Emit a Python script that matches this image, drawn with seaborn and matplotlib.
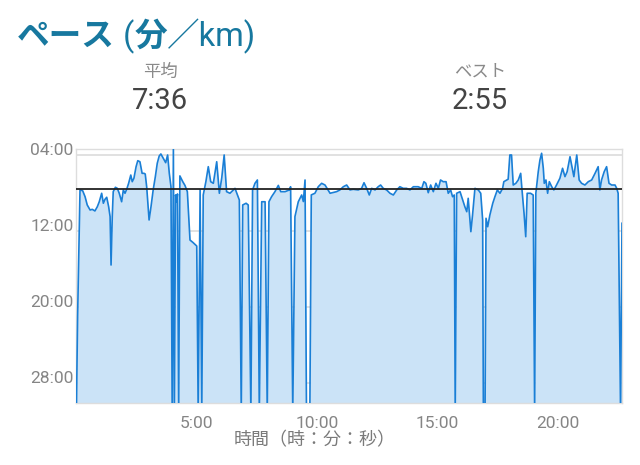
import matplotlib
matplotlib.use("Agg")
import matplotlib.pyplot as plt
from matplotlib.ticker import FixedLocator, FuncFormatter
from matplotlib.offsetbox import TextArea, HPacker, AnnotationBbox
import numpy as np
import pandas as pd
import seaborn as sns

# elapsed time (minutes) and pace (minutes per km); 31 = off the bottom (stopped)
time_min = [
    0.00, 0.05, 0.15, 0.26, 0.36, 0.45, 0.57, 0.66, 0.77, 0.87, 0.95, 1.05, 1.12, 1.19, 1.26,
    1.34, 1.40, 1.44, 1.49, 1.53, 1.62, 1.70, 1.78, 1.88, 1.95, 2.02, 2.09, 2.17, 2.26, 2.32,
    2.39, 2.48, 2.55, 2.64, 2.73, 2.81, 2.86, 2.92, 3.02, 3.10, 3.19, 3.28, 3.36, 3.44, 3.51,
    3.61, 3.71, 3.79, 3.86, 3.93, 3.98, 4.03, 4.07, 4.12, 4.17, 4.20, 4.25, 4.30, 4.42, 4.51,
    4.61, 4.72, 4.84, 5.00, 5.06, 5.14, 5.21, 5.27, 5.38, 5.48, 5.58, 5.69, 5.83, 5.94, 6.04,
    6.14, 6.24, 6.38, 6.59, 6.77, 6.85, 6.91, 7.05, 7.14, 7.25, 7.32, 7.42, 7.52, 7.60, 7.70,
    7.84, 7.93, 8.00, 8.11, 8.25, 8.39, 8.49, 8.67, 8.85, 8.90, 8.99, 9.08, 9.22, 9.36, 9.43,
    9.50, 9.56, 9.70, 9.76, 9.91, 10.05, 10.19, 10.33, 10.54, 10.81, 10.95, 11.09, 11.23, 11.37, 11.50,
    11.71, 11.85, 11.95, 12.06, 12.17, 12.27, 12.41, 12.54, 12.64, 12.75, 12.89, 13.03, 13.17, 13.31, 13.44,
    13.58, 13.72, 13.86, 14.00, 14.20, 14.35, 14.44, 14.52, 14.62, 14.72, 14.83, 14.94, 15.04, 15.13, 15.24,
    15.36, 15.45, 15.55, 15.63, 15.70, 15.74, 15.80, 15.94, 16.05, 16.14, 16.22, 16.28, 16.39, 16.46, 16.56,
    16.70, 16.80, 16.88, 16.91, 16.98, 17.02, 17.09, 17.18, 17.30, 17.39, 17.49, 17.60, 17.71, 17.76, 17.88,
    17.94, 18.01, 18.08, 18.15, 18.26, 18.36, 18.46, 18.51, 18.60, 18.67, 18.73, 18.87, 18.98, 19.04, 19.09,
    19.19, 19.26, 19.33, 19.40, 19.44, 19.51, 19.58, 19.65, 19.75, 19.84, 19.95, 20.09, 20.20, 20.30, 20.39,
    20.51, 20.59, 20.67, 20.79, 20.89, 20.99, 21.13, 21.27, 21.41, 21.55, 21.68, 21.75, 21.82, 21.93, 22.03,
    22.13, 22.24, 22.38, 22.45, 22.51, 22.61, 22.67,
]
pace_min = [
    31.0, 21.05, 7.68, 7.76, 8.39, 9.26, 9.79, 9.72, 9.89, 9.44, 8.92, 8.03, 9.08, 8.66, 8.45,
    9.44, 10.49, 15.58, 10.49, 7.86, 7.40, 7.51, 8.03, 8.92, 7.68, 8.03, 7.61, 6.98, 6.11, 6.81,
    6.45, 5.23, 4.60, 4.71, 5.93, 5.93, 6.00, 7.34, 10.84, 9.44, 7.68, 6.28, 4.87, 4.11, 3.89,
    4.35, 4.81, 4.00, 5.93, 7.34, 31.0, 3.29, 31.0, 8.20, 8.92, 8.10, 31.0, 6.20, 6.81, 7.20,
    7.86, 12.95, 13.20, 13.58, 31.0, 7.68, 31.0, 8.21, 6.81, 5.23, 6.81, 6.98, 4.71, 8.03, 6.40,
    4.00, 7.86, 8.03, 7.51, 8.74, 31.0, 9.26, 9.08, 9.26, 31.0, 7.68, 6.98, 6.63, 31.0, 8.92,
    8.92, 31.0, 8.92, 8.39, 7.86, 7.20, 7.86, 7.86, 7.68, 7.34, 31.0, 10.49, 8.92, 8.21, 8.90,
    6.63, 31.0, 31.0, 8.20, 8.03, 7.34, 6.98, 7.16, 8.03, 7.86, 7.68, 7.34, 7.16, 7.68, 7.61,
    7.68, 7.51, 6.92, 7.51, 8.21, 7.51, 7.68, 7.34, 7.16, 7.51, 7.68, 8.03, 8.21, 7.68, 7.34,
    7.51, 7.51, 7.68, 7.34, 7.34, 7.51, 6.81, 6.98, 7.97, 7.16, 7.86, 6.98, 7.51, 6.63, 6.81,
    6.81, 8.03, 7.68, 8.39, 8.21, 31.0, 8.03, 7.86, 8.74, 9.44, 9.97, 8.56, 12.07, 10.32, 7.51,
    7.68, 8.03, 10.84, 31.0, 31.0, 10.66, 11.55, 10.32, 9.08, 8.39, 7.68, 8.03, 7.51, 6.81, 6.63,
    6.55, 4.00, 4.00, 7.16, 6.98, 6.63, 5.93, 7.51, 10.14, 12.60, 8.03, 8.03, 8.21, 31.0, 8.03,
    5.76, 4.53, 3.82, 5.40, 6.98, 6.63, 8.03, 6.81, 7.34, 7.68, 7.16, 6.45, 5.40, 6.28, 5.76,
    4.18, 5.23, 6.28, 4.00, 6.63, 6.98, 7.16, 6.81, 6.63, 5.93, 5.23, 7.68, 6.63, 5.76, 5.23,
    6.98, 7.16, 7.16, 7.51, 8.03, 31.0, 11.16,
]
avg_pace = 7.6   # 7:36
y_ticks = [4, 12, 20, 28]
x_ticks = [5, 10, 15, 20]

df = pd.DataFrame({"time": time_min, "pace": pace_min})

sns.set_style("white")
plt.rcParams["font.family"] = ["Roboto", "Noto Sans CJK JP", "DejaVu Sans"]

fig = plt.figure(figsize=(6.4, 4.65), dpi=100)
ax = fig.add_axes([76.4 / 640, 62 / 465, 545.6 / 640, 254 / 465])

y_bottom, y_top = 30.1, 3.37
ax.fill_between(df["time"], df["pace"], y_bottom, color="#cbe3f7", lw=0, zorder=1)
sns.lineplot(data=df, x="time", y="pace", ax=ax, color="#1a7fd6", lw=1.2,
             sort=False, zorder=3)
ax.axhline(avg_pace, color="#222222", lw=1.3, zorder=4)

ax.set_xlim(0, 22.67)
ax.set_ylim(y_bottom, y_top)

ax.yaxis.set_major_locator(FixedLocator(y_ticks))
ax.yaxis.set_major_formatter(FuncFormatter(lambda v, p: f"{int(v):02d}:00"))
ax.xaxis.set_major_locator(FixedLocator(x_ticks))
ax.xaxis.set_major_formatter(FuncFormatter(lambda v, p: f"{int(v)}:00"))
ax.grid(axis="y", color="#dcdcdc", lw=1.2, zorder=0)
ax.set_axisbelow(True)
ax.tick_params(axis="y", length=0, pad=2, labelsize=12.5, labelcolor="#858585")
ax.tick_params(axis="x", length=6, width=1, color="#cccccc", pad=3,
               labelsize=12.5, labelcolor="#858585")
for lbl in ax.get_yticklabels():
    lbl.set_verticalalignment("baseline")
for side in ["top", "right", "left", "bottom"]:
    ax.spines[side].set_color("#dddddd")
    ax.spines[side].set_linewidth(1.0)
ax.set_xlabel("")
ax.set_ylabel("")

fig.text(315 / 640, 1 - 440 / 465, "時間（時：分：秒）", ha="center", va="center",
         fontsize=13, color="#7a7a7a")

# title with mixed weights
title_color = "#17789f"
parts = [("ペース", "bold"), (" (", "normal"), ("分", "bold"), ("／km)", "normal")]
boxes = [TextArea(s, textprops=dict(fontsize=23.5, color=title_color, fontweight=w))
         for s, w in parts]
pack = HPacker(children=boxes, align="baseline", pad=0, sep=0)
fig.add_artist(AnnotationBbox(pack, (17 / 640, 1 - 36 / 465), xycoords="figure fraction",
                              box_alignment=(0, 0.5), frameon=False, pad=0))

# summary stats
fig.text(160 / 640, 1 - 72 / 465, "平均", ha="center", va="center", fontsize=12.5,
         color="#8a8a8a")
fig.text(160 / 640, 1 - 101 / 465, "7:36", ha="center", va="center", fontsize=21,
         color="#444444")
fig.text(480 / 640, 1 - 72 / 465, "ベスト", ha="center", va="center", fontsize=12.5,
         color="#8a8a8a")
fig.text(480 / 640, 1 - 101 / 465, "2:55", ha="center", va="center", fontsize=21,
         color="#444444")

fig.savefig("out.png", dpi=100)
